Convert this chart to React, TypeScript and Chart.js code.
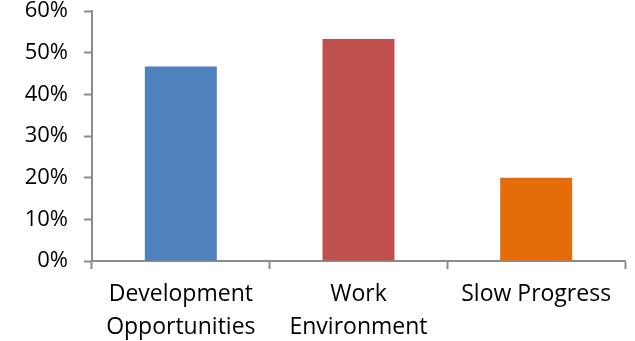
import React, { useEffect, useRef } from "react";
import { Chart, registerables } from "chart.js";

Chart.register(...registerables);

const categories: (string | string[])[] = [
  ["Development", "Opportunities"],
  ["Work", "Environment"],
  "Slow Progress",
];
const values = [0.467, 0.533, 0.2];
const barColors = ["#4F81BD", "#C0504D", "#E46C0A"];
const yTicks = [0, 0.1, 0.2, 0.3, 0.4, 0.5, 0.6];

export default function App() {
  const ref = useRef<HTMLCanvasElement>(null);
  useEffect(() => {
    document.body.style.margin = "0";
    const family = "'Open Sans', sans-serif";
    const axisColor = "#8C8C8C";
    const chart = new Chart(ref.current!, {
      type: "bar",
      data: {
        labels: categories,
        datasets: [
          {
            data: values,
            backgroundColor: barColors,
            barPercentage: 0.405,
            categoryPercentage: 1,
          },
        ],
      },
      options: {
        animation: false,
        responsive: false,
        maintainAspectRatio: false,
        layout: { padding: { top: 11, right: 10, left: 0, bottom: 0 } },
        plugins: { legend: { display: false }, tooltip: { enabled: false } },
        scales: {
          x: {
            grid: {
              display: true,
              drawOnChartArea: false,
              tickLength: 8,
              tickWidth: 2,
              color: axisColor,
              offset: true,
            },
            border: { display: true, color: axisColor, width: 2 },
            ticks: {
              color: "#000",
              font: { family, size: 23, lineHeight: 1.42 },
              maxRotation: 0,
              autoSkip: false,
              padding: 9,
            },
            afterFit: (s: any) => {
              s.height = 80;
              s.paddingLeft = 0;
              s.paddingRight = 0;
            },
          },
          y: {
            min: 0,
            max: 0.6,
            afterBuildTicks: (s: any) => {
              s.ticks = yTicks.map((v) => ({ value: v }));
            },
            grid: {
              display: true,
              drawOnChartArea: false,
              tickLength: 8,
              tickWidth: 2,
              color: axisColor,
            },
            border: { display: true, color: axisColor, width: 2 },
            ticks: {
              color: "#000",
              font: { family, size: 22 },
              padding: 16,
              callback: (v: any) => Math.round(Number(v) * 100) + "%",
            },
            afterFit: (s: any) => {
              s.width = 92;
              s.paddingTop = 0;
              s.paddingBottom = 0;
            },
          },
        },
      },
    });
    return () => chart.destroy();
  }, []);
  return (
    <div style={{ width: 635, height: 341, background: "#fff" }}>
      <canvas ref={ref} width={635} height={341} style={{ display: "block" }} />
    </div>
  );
}
